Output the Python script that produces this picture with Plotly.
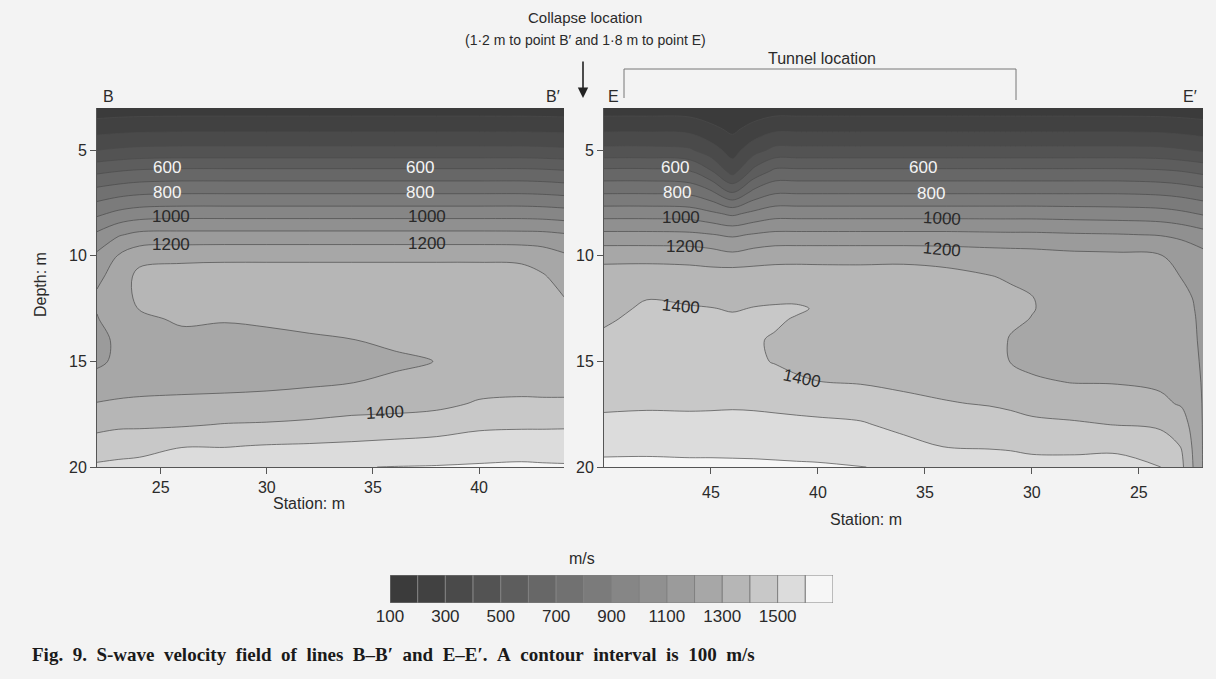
import numpy as np
import plotly.graph_objects as go

W, H = 1216, 679

# ---------------- data ----------------
CLASS_LOWER = [100, 200, 300, 400, 500, 600, 700, 800, 900, 1000, 1100, 1200, 1300, 1400, 1500, 1600]
CLASS_COLORS = ['#3b3b3b', '#414141', '#4a4a4a', '#535353', '#5d5d5d', '#676767', '#717171', '#7b7b7b',
                '#868686', '#909090', '#9b9b9b', '#a7a7a7', '#b6b6b6', '#c8c8c8', '#dcdcdc', '#f6f6f6']
CBAR_TICKS = [100, 300, 500, 700, 900, 1100, 1300, 1500]

# line B-B'
STATIONS_B = [22, 23, 24, 26, 28, 30, 32, 34, 36, 38, 40, 42, 43, 44]
DEPTHS_B = [3, 4, 5, 6, 7, 8, 9, 10, 11, 12, 13, 14, 15, 16, 17, 18, 19, 20]
VS_B_BY_STATION = [
    [140, 260, 400, 580, 740, 880, 1020, 1120, 1180, 1215, 1195, 1180, 1185, 1230, 1305, 1375, 1440, 1517],
    [145, 270, 415, 600, 765, 925, 1090, 1205, 1240, 1255, 1245, 1212, 1215, 1250, 1315, 1385, 1455, 1525],
    [148, 276, 425, 615, 782, 950, 1125, 1265, 1330, 1320, 1285, 1275, 1270, 1280, 1310, 1385, 1465, 1530],
    [150, 280, 430, 625, 790, 960, 1130, 1275, 1345, 1340, 1310, 1280, 1270, 1280, 1315, 1390, 1495, 1560],
    [150, 280, 430, 625, 790, 960, 1130, 1280, 1345, 1350, 1305, 1275, 1265, 1280, 1320, 1405, 1495, 1565],
    [150, 280, 430, 625, 790, 960, 1130, 1280, 1345, 1350, 1312, 1280, 1268, 1280, 1330, 1410, 1505, 1570],
    [150, 280, 430, 625, 790, 960, 1130, 1280, 1345, 1352, 1320, 1290, 1275, 1288, 1340, 1420, 1510, 1580],
    [150, 280, 430, 625, 790, 960, 1130, 1280, 1345, 1355, 1335, 1298, 1285, 1299, 1350, 1440, 1515, 1597],
    [150, 280, 430, 625, 790, 960, 1130, 1280, 1345, 1355, 1345, 1310, 1290, 1310, 1360, 1445, 1525, 1602],
    [150, 280, 430, 625, 790, 960, 1130, 1280, 1345, 1358, 1355, 1330, 1301, 1330, 1375, 1455, 1535, 1605],
    [150, 280, 430, 625, 790, 960, 1130, 1280, 1345, 1360, 1365, 1360, 1345, 1360, 1410, 1480, 1550, 1610],
    [150, 280, 430, 625, 790, 960, 1128, 1275, 1340, 1360, 1365, 1365, 1360, 1370, 1415, 1485, 1555, 1615],
    [148, 278, 426, 620, 785, 955, 1125, 1255, 1310, 1345, 1355, 1355, 1355, 1365, 1415, 1486, 1552, 1612],
    [145, 275, 420, 610, 775, 945, 1110, 1215, 1265, 1302, 1335, 1345, 1350, 1365, 1415, 1488, 1550, 1610],
]

# line E-E'
STATIONS_E = [22, 23, 24, 26, 28, 30, 31, 32, 34, 36, 38, 40, 41, 42, 43, 44, 45, 46, 48, 50]
DEPTHS_E = [3, 4, 5, 6, 7, 8, 9, 10, 11, 12, 12.5, 13, 14, 15, 16, 17, 18, 19, 20]
VS_E_BY_STATION = [
    [140, 250, 390, 575, 740, 890, 1040, 1130, 1165, 1185, 1188, 1190, 1192, 1193, 1194, 1195, 1195, 1195, 1195],
    [145, 265, 410, 600, 765, 920, 1075, 1175, 1198, 1215, 1218, 1220, 1222, 1232, 1255, 1290, 1350, 1395, 1420],
    [148, 275, 425, 615, 780, 940, 1095, 1205, 1240, 1250, 1251, 1252, 1250, 1260, 1285, 1320, 1385, 1450, 1502],
    [150, 280, 430, 625, 790, 950, 1105, 1220, 1255, 1265, 1266, 1266, 1262, 1268, 1296, 1345, 1398, 1485, 1525],
    [150, 280, 430, 625, 790, 955, 1110, 1225, 1260, 1270, 1271, 1272, 1268, 1275, 1298, 1360, 1410, 1478, 1530],
    [150, 280, 430, 625, 790, 960, 1118, 1240, 1285, 1302, 1303, 1298, 1280, 1285, 1310, 1370, 1420, 1480, 1530],
    [150, 280, 430, 625, 790, 960, 1118, 1245, 1290, 1320, 1320, 1312, 1295, 1298, 1330, 1385, 1432, 1488, 1540],
    [150, 280, 430, 625, 790, 960, 1120, 1250, 1305, 1330, 1335, 1338, 1335, 1335, 1355, 1395, 1440, 1492, 1545],
    [150, 280, 430, 625, 790, 960, 1125, 1262, 1330, 1360, 1362, 1365, 1360, 1360, 1375, 1405, 1455, 1495, 1555],
    [150, 280, 430, 625, 790, 960, 1125, 1270, 1345, 1370, 1375, 1375, 1365, 1365, 1385, 1420, 1475, 1528, 1580],
    [150, 280, 430, 625, 790, 960, 1125, 1270, 1340, 1380, 1385, 1385, 1370, 1370, 1395, 1455, 1510, 1560, 1603],
    [150, 280, 430, 625, 790, 960, 1125, 1270, 1342, 1385, 1395, 1385, 1370, 1375, 1402, 1465, 1520, 1565, 1610],
    [150, 280, 430, 625, 790, 960, 1125, 1270, 1345, 1390, 1407, 1396, 1380, 1385, 1410, 1470, 1525, 1568, 1612],
    [150, 280, 430, 625, 790, 960, 1125, 1268, 1345, 1392, 1405, 1407, 1395, 1397, 1420, 1478, 1528, 1570, 1615],
    [135, 235, 360, 530, 730, 925, 1108, 1252, 1350, 1390, 1402, 1410, 1405, 1408, 1430, 1485, 1530, 1572, 1618],
    [110, 180, 260, 360, 600, 880, 1085, 1225, 1360, 1385, 1396, 1408, 1415, 1425, 1445, 1488, 1530, 1572, 1620],
    [130, 225, 345, 510, 720, 920, 1105, 1250, 1345, 1385, 1402, 1414, 1425, 1435, 1450, 1485, 1530, 1572, 1622],
    [148, 270, 415, 605, 780, 952, 1120, 1265, 1345, 1390, 1405, 1418, 1432, 1440, 1455, 1482, 1532, 1572, 1622],
    [150, 280, 430, 625, 790, 960, 1125, 1270, 1350, 1398, 1410, 1420, 1430, 1440, 1455, 1485, 1532, 1575, 1625],
    [150, 280, 430, 625, 790, 960, 1125, 1270, 1345, 1370, 1380, 1390, 1415, 1430, 1450, 1480, 1528, 1572, 1625],
]

# contour label texts
LABEL_TEXT_B = ['600', '800', '1000', '1200', '600', '800', '1000', '1200', '1400']
LABEL_TEXT_E = ['600', '800', '1000', '1200', '600', '800', '1000', '1200', '1400', '1400']

# ---------------- label placement (station, depth, angle) ----------------
LABEL_POS_B = [(25.3, 5.83, 0), (25.3, 7.0, 0), (25.5, 8.15, 0), (25.5, 9.45, 0),
               (37.2, 5.83, 0), (37.2, 7.0, 0), (37.55, 8.15, 0), (37.55, 9.4, 0),
               (35.55, 17.4, -3)]
LABEL_POS_E = [(46.7, 5.8, 0), (46.6, 7.0, 0), (46.4, 8.2, 0), (46.2, 9.55, 0),
               (35.1, 5.8, 0), (34.7, 7.05, 0), (34.2, 8.25, 3), (34.2, 9.7, 5),
               (46.4, 12.4, 5), (40.75, 15.8, 12)]

FONT = 'Liberation Sans, Arial, sans-serif'
BG = '#f3f3f3'
TXT = '#2a2a2a'

colorscale = [[i / (len(CLASS_COLORS) - 1), c] for i, c in enumerate(CLASS_COLORS)]


def contour_trace(stations, depths, cols, xa, ya):
    z = np.array(cols, dtype=float).T  # rows = depths
    return go.Contour(
        x=stations, y=depths, z=z, xaxis=xa, yaxis=ya,
        autocontour=False,
        contours=dict(start=CLASS_LOWER[1], end=CLASS_LOWER[-1], size=100,
                      coloring='fill', showlabels=False),
        colorscale=colorscale,
        line=dict(color='#4a4a4a', width=0.7, smoothing=1.0),
        showscale=False, hoverinfo='skip')


fig = go.Figure()
fig.add_trace(contour_trace(STATIONS_B, DEPTHS_B, VS_B_BY_STATION, 'x', 'y'))
fig.add_trace(contour_trace(STATIONS_E, DEPTHS_E, VS_E_BY_STATION, 'x2', 'y2'))

# legend colour bar
fig.add_trace(go.Bar(
    x=[lo + 50 for lo in CLASS_LOWER], y=[1] * len(CLASS_LOWER), width=100,
    marker=dict(color=CLASS_COLORS, line=dict(color='#808080', width=1)),
    xaxis='x3', yaxis='y3', showlegend=False, hoverinfo='skip'))


def px(x):
    return x / W


def py(y):
    return 1 - y / H


axis_common = dict(showgrid=False, zeroline=False, showline=True, linecolor='#555', linewidth=1,
                   ticks='outside', ticklen=6, tickcolor='#555', tickwidth=1, automargin=False,
                   tickfont=dict(family=FONT, size=16, color=TXT))

y_dom = [py(467), py(108)]
fig.update_layout(
    width=W, height=H, margin=dict(l=0, r=0, t=0, b=0, pad=0, autoexpand=False),
    paper_bgcolor=BG, plot_bgcolor=BG, showlegend=False,
    xaxis=dict(domain=[px(97), px(564)], range=[22, 44], tickvals=[25, 30, 35, 40],
               anchor='y', **axis_common),
    yaxis=dict(domain=y_dom, range=[20, 3], tickvals=[5, 10, 15, 20], anchor='x', **axis_common),
    xaxis2=dict(domain=[px(604), px(1203)], range=[50, 22], tickvals=[45, 40, 35, 30, 25],
                anchor='y2', ticklabelstandoff=5, **axis_common),
    yaxis2=dict(domain=y_dom, range=[20, 3], tickvals=[5, 10, 15, 20], anchor='x2', **axis_common),
    xaxis3=dict(domain=[px(390), px(833)], range=[100, 1700], tickvals=CBAR_TICKS,
                showgrid=False, zeroline=False, showline=False, ticks='', anchor='y3', automargin=False,
                ticklabelstandoff=1, tickfont=dict(family=FONT, size=17, color=TXT)),
    yaxis3=dict(domain=[py(603), py(575)], range=[0, 1], visible=False, anchor='x3', automargin=False),
)

ann = []


def text(x, y, s, size=14, color=TXT, **kw):
    ann.append(dict(x=px(x), y=py(y), xref='paper', yref='paper', text=s, showarrow=False,
                    xanchor='center', yanchor='middle',
                    font=dict(family=FONT, size=size, color=color), **kw))


text(585, 17, 'Collapse location', 15)
text(585, 40, '(1·2 m to point B′ and 1·8 m to point E)', 14)
text(822, 58, 'Tunnel location', 16)
text(108, 97, 'B', 16)
text(553, 97, 'B′', 16)
text(613, 97, 'E', 16)
text(1190, 97, 'E′', 16)
text(40, 285, 'Depth: m', 16, textangle=-90)
text(309, 503, 'Station: m', 16)
text(866, 519, 'Station: m', 16)
text(582, 558, 'm/s', 16)

caption_words = ['Fig.', '9.', 'S-wave', 'velocity', 'field', 'of', 'lines', 'B–B′', 'and', 'E–E′.',
                 'A', 'contour', 'interval', 'is', '100', 'm/s']
caption = '\u00a0\u00a0'.join(caption_words)
ann.append(dict(x=px(30), y=py(654), xref='paper', yref='paper', xanchor='left', yanchor='middle',
                showarrow=False, text='<b>' + caption + '</b>',
                font=dict(family='Liberation Serif, Times New Roman, serif', size=19, color='#1a1a1a')))
# collapse arrow
ann.append(dict(x=px(583), y=py(98), xref='paper', yref='paper', ax=0, ay=-38, text='',
                showarrow=True, arrowhead=2, arrowsize=1.3, arrowwidth=1.6, arrowcolor='#222'))

for t, (s, d, a) in zip(LABEL_TEXT_B, LABEL_POS_B):
    ann.append(dict(x=s, y=d, xref='x', yref='y', text=t, showarrow=False, textangle=a,
                    xanchor='center', yanchor='middle',
                    font=dict(family=FONT, size=17, color='#f4f4f4' if t in ('600', '800') else TXT)))
for t, (s, d, a) in zip(LABEL_TEXT_E, LABEL_POS_E):
    ann.append(dict(x=s, y=d, xref='x2', yref='y2', text=t, showarrow=False, textangle=a,
                    xanchor='center', yanchor='middle',
                    font=dict(family=FONT, size=17, color='#f4f4f4' if t in ('600', '800') else TXT)))

fig.update_layout(annotations=ann)

# tunnel location bracket
fig.add_shape(type='path', xref='paper', yref='paper',
              path=f'M {px(624)} {py(98)} L {px(624)} {py(69)} L {px(1016)} {py(69)} L {px(1016)} {py(100)}',
              line=dict(color='#777', width=1))

fig.write_html('out.html', config={'displayModeBar': False},
               post_script="document.body.style.margin='0';document.body.style.overflow='hidden';")
